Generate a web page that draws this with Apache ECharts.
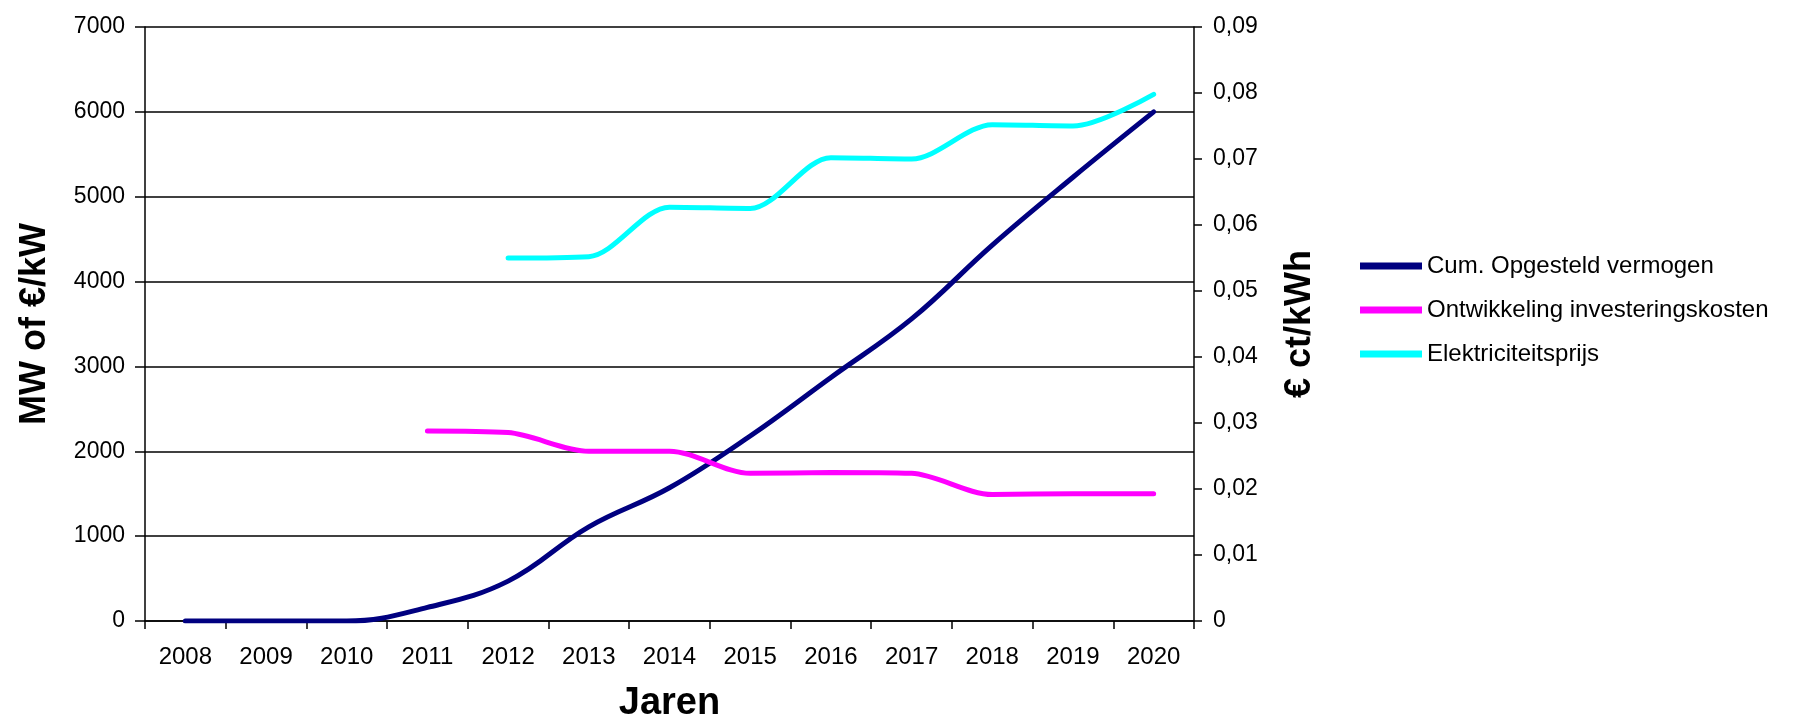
<!DOCTYPE html>
<html>
<head>
<meta charset="utf-8">
<script src="https://cdn.jsdelivr.net/npm/echarts@6/dist/echarts.min.js"></script>
<style>
  html, body { margin: 0; padding: 0; background: #fff; }
  #main { width: 1800px; height: 718px; }
</style>
</head>
<body>
<div id="main"></div>
<script>
// jaren op de x-as
var jaren = ["2008", "2009", "2010", "2011", "2012", "2013", "2014", "2015", "2016", "2017", "2018", "2019", "2020"];
// cumulatief opgesteld vermogen (MW)
var cumVermogen = [0, 0, 0, 160, 470, 1110, 1570, 2180, 2870, 3560, 4430, 5230, 6000];
// investeringskosten (€/kW)
var investering = [null, null, null, 2240, 2220, 2000, 2000, 1740, 1750, 1740, 1490, 1500, 1500];
// elektriciteitsprijs (€ ct/kWh), rechter as
var prijs = [null, null, null, null, 0.055, 0.0552, 0.0627, 0.0625, 0.0702, 0.07, 0.0752, 0.075, 0.0798];

var myChart = echarts.init(document.getElementById("main"));

var labelFont = "Liberation Sans, Arial, sans-serif";

var option = {
  backgroundColor: "#fff",
  animation: false,
  textStyle: { fontFamily: labelFont, color: "#000" },
  grid: { left: 145, right: 606, top: 27, bottom: 97, outerBoundsMode: "none" },
  legend: {
    orient: "vertical",
    left: 1355,
    top: 249,
    itemWidth: 62,
    itemHeight: 7,
    itemGap: 20,
    icon: "rect",
    textStyle: { fontSize: 24, color: "#000", fontFamily: labelFont },
    data: ["Cum. Opgesteld vermogen", "Ontwikkeling investeringskosten", "Elektriciteitsprijs"]
  },
  xAxis: {
    type: "category",
    data: jaren,
    name: "Jaren",
    nameLocation: "middle",
    nameGap: 64,
    nameTextStyle: { fontSize: 38, fontWeight: "bold", color: "#000" },
    axisLine: { lineStyle: { color: "#000", width: 1.5 } },
    axisTick: { show: true, length: 8, lineStyle: { color: "#000", width: 1.5 } },
    axisLabel: { fontSize: 24, color: "#000", margin: 24 }
  },
  yAxis: [
    {
      type: "value",
      min: 0,
      max: 7000,
      interval: 1000,
      name: "MW of €/kW",
      nameLocation: "middle",
      nameRotate: 90,
      nameGap: 92,
      nameTextStyle: { fontSize: 36, fontWeight: "bold", color: "#000" },
      axisLine: { show: true, lineStyle: { color: "#000", width: 1.5 } },
      axisTick: { show: true, length: 10, lineStyle: { color: "#000", width: 1.5 } },
      axisLabel: {
        fontSize: 23,
        color: "#000",
        margin: 20,
        formatter: function (v) { return String(v); }
      },
      splitLine: { show: true, lineStyle: { color: "#000", width: 1.5 } }
    },
    {
      type: "value",
      position: "right",
      min: 0,
      max: 0.09,
      interval: 0.01,
      name: "€ ct/kWh",
      nameLocation: "middle",
      nameRotate: 90,
      nameGap: 88,
      nameTextStyle: { fontSize: 36, fontWeight: "bold", color: "#000" },
      axisLine: { show: true, lineStyle: { color: "#000", width: 1.5 } },
      axisTick: { show: true, length: 8, lineStyle: { color: "#000", width: 1.5 } },
      axisLabel: {
        fontSize: 23,
        color: "#000",
        margin: 19,
        formatter: function (v) {
          if (v === 0) return "0";
          return v.toFixed(2).replace(".", ",");
        }
      },
      splitLine: { show: false }
    }
  ],
  series: [
    {
      name: "Cum. Opgesteld vermogen",
      type: "line",
      yAxisIndex: 0,
      data: cumVermogen,
      smooth: 0.4,
      symbol: "none",
      color: "#000080",
      lineStyle: { width: 5, color: "#000080", cap: "round" }
    },
    {
      name: "Ontwikkeling investeringskosten",
      type: "line",
      yAxisIndex: 0,
      data: investering,
      smooth: 0.3,
      symbol: "none",
      color: "#ff00ff",
      lineStyle: { width: 5, color: "#ff00ff", cap: "round" }
    },
    {
      name: "Elektriciteitsprijs",
      type: "line",
      yAxisIndex: 1,
      data: prijs,
      smooth: 0.3,
      symbol: "none",
      color: "#00ffff",
      lineStyle: { width: 5, color: "#00ffff", cap: "round" }
    }
  ]
};

myChart.setOption(option);
</script>
</body>
</html>
